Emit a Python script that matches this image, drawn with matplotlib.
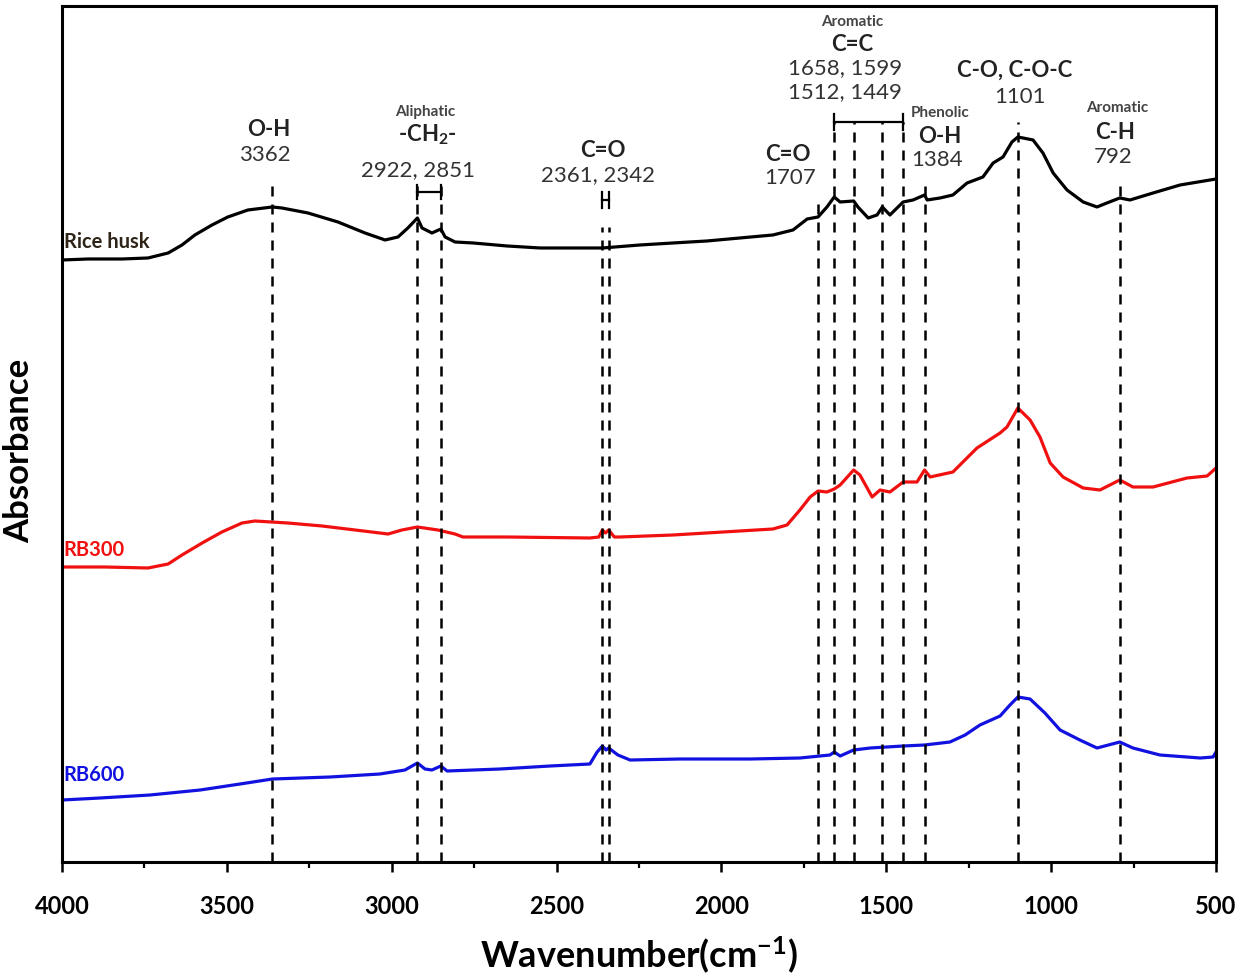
import matplotlib
matplotlib.use("Agg")
import matplotlib.pyplot as plt
from matplotlib.ticker import MultipleLocator

plt.rcParams['font.family'] = ['Lato', 'DejaVu Sans']
plt.rcParams['mathtext.fontset'] = 'custom'
plt.rcParams['mathtext.rm'] = 'Lato'
plt.rcParams['mathtext.bf'] = 'Lato:bold'
plt.rcParams['mathtext.it'] = 'Lato:italic'

# FTIR spectra (wavenumber in cm-1, absorbance in arbitrary offset units)
husk_wn = [4000, 3921, 3818, 3739, 3678, 3636, 3597, 3545, 3497, 3436, 3362, 3333,
           3254, 3163, 3081, 3020, 2981, 2951, 2922, 2908, 2878, 2851, 2838, 2808,
           2753, 2650, 2550, 2361, 2247, 2147, 2044, 1944, 1844, 1783, 1740, 1707,
           1680, 1658, 1640, 1599, 1586, 1555, 1528, 1512, 1489, 1449, 1419, 1384,
           1376, 1337, 1298, 1255, 1207, 1176, 1146, 1119, 1101, 1055, 1025, 994,
           952, 903, 861, 831, 792, 761, 691, 609, 500]
husk_ab = [60.2, 60.3, 60.3, 60.4, 60.9, 61.7, 62.7, 63.7, 64.5, 65.2, 65.5, 65.4,
           64.9, 64.0, 62.9, 62.2, 62.5, 63.4, 64.4, 63.4, 62.9, 63.3, 62.5, 62.0,
           61.9, 61.6, 61.4, 61.4, 61.7, 61.9, 62.1, 62.4, 62.7, 63.2, 64.3, 64.5,
           65.5, 66.5, 66.0, 66.1, 65.5, 64.4, 64.7, 65.5, 64.7, 66.0, 66.2, 66.7,
           66.2, 66.4, 66.7, 67.9, 68.5, 69.9, 70.5, 72.0, 72.5, 72.2, 70.9, 68.9,
           67.2, 66.0, 65.5, 65.9, 66.4, 66.2, 66.9, 67.7, 68.3]

rb300_wn = [4000, 3870, 3739, 3678, 3636, 3575, 3515, 3454, 3415, 3315, 3211, 3111,
            3011, 2969, 2922, 2860, 2808, 2784, 2650, 2399, 2372, 2361, 2352, 2342,
            2325, 2308, 2147, 1995, 1844, 1801, 1762, 1731, 1707, 1680, 1658, 1640,
            1599, 1580, 1543, 1519, 1489, 1449, 1407, 1384, 1367, 1298, 1225, 1155,
            1134, 1101, 1064, 1034, 1003, 964, 903, 852, 792, 752, 691, 588, 527, 500]
rb300_ab = [29.5, 29.5, 29.4, 29.8, 30.7, 31.9, 33.0, 33.9, 34.1, 33.9, 33.6, 33.2,
            32.8, 33.2, 33.5, 33.2, 32.8, 32.5, 32.5, 32.4, 32.5, 33.2, 32.9, 33.2,
            32.5, 32.5, 32.7, 33.0, 33.3, 33.7, 35.2, 36.5, 37.1, 37.0, 37.3, 37.7,
            39.2, 38.7, 36.5, 37.2, 37.0, 38.0, 38.0, 39.2, 38.5, 39.0, 41.4, 42.9,
            43.5, 45.4, 44.2, 42.5, 39.9, 38.5, 37.4, 37.2, 38.2, 37.5, 37.5, 38.4, 38.6, 39.4]

rb600_wn = [4000, 3885, 3733, 3581, 3460, 3362, 3187, 3036, 2960, 2922, 2899, 2878,
            2851, 2832, 2672, 2520, 2399, 2377, 2361, 2350, 2342, 2314, 2277, 2126,
            1913, 1762, 1671, 1658, 1640, 1599, 1549, 1449, 1384, 1307, 1261, 1216,
            1155, 1125, 1101, 1064, 1019, 973, 913, 861, 792, 752, 670, 548, 509, 500]
rb600_ab = [6.2, 6.4, 6.7, 7.2, 7.8, 8.3, 8.5, 8.8, 9.2, 9.9, 9.3, 9.2,
            9.6, 9.1, 9.3, 9.6, 9.8, 11.0, 11.6, 11.2, 11.4, 10.7, 10.2, 10.3,
            10.3, 10.4, 10.7, 11.0, 10.6, 11.2, 11.4, 11.6, 11.7, 12.0, 12.7, 13.7,
            14.6, 15.7, 16.5, 16.3, 14.9, 13.2, 12.2, 11.4, 12.0, 11.4, 10.7, 10.4, 10.5, 11.0]

# band positions marked with dashed lines and where each line starts
band_wn = [3362, 2922, 2851, 2361, 2342, 1707, 1658, 1599, 1512, 1449, 1384, 1101, 792]
band_top = [68.4, 67.7, 67.7, 63.5, 63.5, 66.0, 74.0, 74.0, 74.0, 74.0, 67.7, 74.0, 67.7]

fig = plt.figure(figsize=(12.42, 9.8), dpi=100)
ax = fig.add_axes([0.0499, 0.1204, 0.9292, 0.8735])

ax.plot(husk_wn, husk_ab, color='black', lw=2.3)
ax.plot(rb300_wn, rb300_ab, color='#f01010', lw=2.3)
ax.plot(rb600_wn, rb600_ab, color='#1212e0', lw=2.3)

for wn, top in zip(band_wn, band_top):
    ax.plot([wn, wn], [0, top], color='black', lw=1.8, dashes=(4, 3.2))

# brackets grouping neighbouring bands
def bracket(x1, x2, y, h=0.7):
    ax.plot([x1, x2], [y, y], color='black', lw=1.6)
    ax.plot([x1, x1], [y - h, y + h], color='black', lw=1.6)
    ax.plot([x2, x2], [y - h, y + h], color='black', lw=1.6)

bracket(2922, 2851, 67.0)
bracket(2361, 2342, 66.2, 0.8)
bracket(1658, 1449, 74.0, 0.8)

num = dict(ha='center', va='center', fontsize=16, color='#333333')
bold = dict(ha='center', va='center', fontsize=16, fontweight='bold', color='#222222')
small = dict(ha='center', va='center', fontsize=11, fontweight='bold', color='#444444')

ax.text(3372, 73.2, 'O-H', **bold)
ax.text(3384, 70.7, '3362', **num)
ax.text(2899, 75.0, 'Aliphatic', **small)
ax.text(2893, 72.7, r'-CH$_\mathbf{2}$-', **bold)
ax.text(2920, 69.2, '2922, 2851', **num)
ax.text(2359, 71.1, 'C=O', **bold)
ax.text(2374, 68.7, '2361, 2342', **num)
ax.text(1798, 70.7, 'C=O', **bold)
ax.text(1792, 68.4, '1707', **num)
ax.text(1604, 84.0, 'Aromatic', **small)
ax.text(1604, 81.7, 'C=C', **bold)
ax.text(1625, 79.4, '1658, 1599', **num)
ax.text(1625, 77.0, '1512, 1449', **num)
ax.text(1337, 74.9, 'Phenolic', **small)
ax.text(1337, 72.5, 'O-H', **bold)
ax.text(1346, 70.2, '1384', **num)
ax.text(1110, 79.2, 'C-O, C-O-C', **bold)
ax.text(1094, 76.5, '1101', **num)
ax.text(800, 75.4, 'Aromatic', **small)
ax.text(806, 72.9, 'C-H', **bold)
ax.text(812, 70.5, '792', **num)

# sample names
ax.text(3995, 62.0, 'Rice husk', fontsize=14.5, fontweight='bold', color='#2e2418', va='center')
ax.text(3995, 31.2, 'RB300', fontsize=14.5, fontweight='bold', color='#f01010', va='center')
ax.text(3995, 8.7, 'RB600', fontsize=14.5, fontweight='bold', color='#1212e0', va='center')

ax.set_xlim(4000, 500)
ax.set_ylim(0, 85.6)
ax.xaxis.set_major_locator(MultipleLocator(500))
ax.xaxis.set_minor_locator(MultipleLocator(250))
ax.set_yticks([])
ax.tick_params(axis='x', which='major', direction='out', length=7, width=1.8, pad=17,
               labelsize=17)
ax.tick_params(axis='x', which='minor', direction='out', length=4.5, width=1.6)
for lab in ax.get_xticklabels():
    lab.set_fontweight('bold')
for sp in ax.spines.values():
    sp.set_linewidth(2.2)

ax.set_xlabel(r'Wavenumber(cm$^{\mathbf{-1}}$)', fontsize=26, fontweight='bold', labelpad=12)
ax.set_ylabel('Absorbance', fontsize=25, fontweight='bold')
ax.yaxis.set_label_coords(-0.023, 0.48)

fig.savefig('out.png', dpi=100)
